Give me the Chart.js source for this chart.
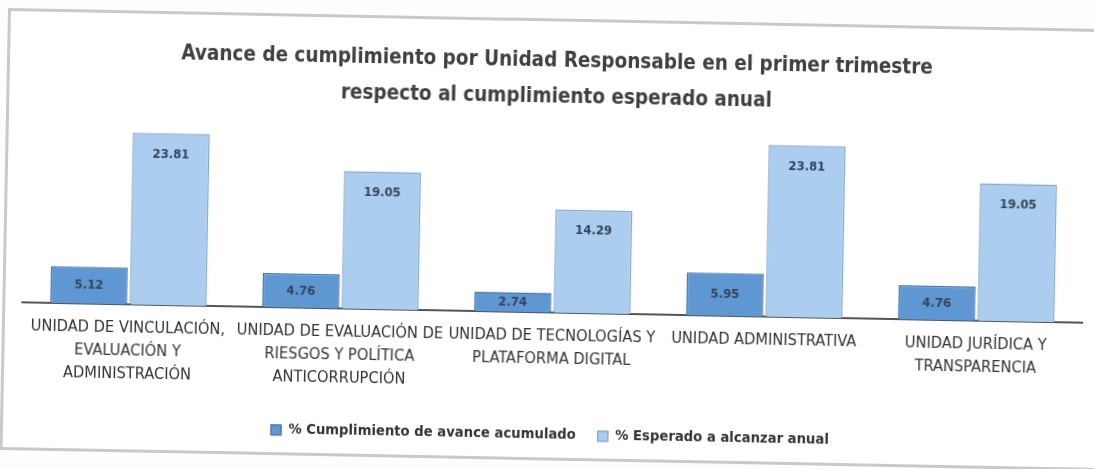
<!DOCTYPE html>
<html>
<head>
<meta charset="utf-8">
<script src="https://cdn.jsdelivr.net/npm/chart.js@4"></script>
<style>
  html, body { margin: 0; padding: 0; background: #fdfdfd; overflow: hidden; }
  .sheet {
    position: absolute;
    left: 8px;
    top: 8px;
    width: 1100px;
    height: 436px;
    border: 3px solid #c9c9c9;
    background: #ffffff;
    transform: rotate(1.1deg);
    transform-origin: 0 0;
  }
  .sheet canvas { position: absolute; left: 0; top: 0; }
</style>
</head>
<body>
<div class="sheet">
  <canvas id="avance-chart" width="1090" height="431"></canvas>
</div>
<script>
const unidades = [
  ['UNIDAD DE VINCULACIÓN,', 'EVALUACIÓN Y', 'ADMINISTRACIÓN'],
  ['UNIDAD DE EVALUACIÓN DE', 'RIESGOS Y POLÍTICA', 'ANTICORRUPCIÓN'],
  ['UNIDAD DE TECNOLOGÍAS Y', 'PLATAFORMA DIGITAL'],
  ['UNIDAD ADMINISTRATIVA'],
  ['UNIDAD JURÍDICA Y', 'TRANSPARENCIA']
]

const cumplimientoAcumulado = [5.12, 4.76, 2.74, 5.95, 4.76]
const esperadoAnual = [23.81, 19.05, 14.29, 23.81, 19.05]

const fontFamily = '"DejaVu Sans Condensed", "Liberation Sans", sans-serif'


// etiquetas de valor dentro de cada barra, cerca del extremo superior
const barValueLabels = {
  id: 'barValueLabels',
  afterDatasetsDraw(chart) {
    const { ctx } = chart;
    ctx.save();
    ctx.font = `bold 13px ${fontFamily}`;
    ctx.fillStyle = '#34455a';
    ctx.textAlign = 'center';
    ctx.textBaseline = 'middle';

    chart.data.datasets.forEach((dataset, i) => {
      chart.getDatasetMeta(i).data.forEach((bar, j) => {
        const height = bar.base - bar.y
        const offset = Math.min(21, height / 2)
        ctx.fillText(dataset.data[j].toFixed(2), bar.x, bar.y + offset)
      })
    })
    ctx.restore();
  }
}

const avanceCtx = document.getElementById('avance-chart')

const avanceChart = new Chart(avanceCtx, {
  type: 'bar',
  data: {
    labels: unidades,
    datasets: [{
      label: '% Cumplimiento de avance acumulado',
      data: cumplimientoAcumulado,
      backgroundColor: '#5f97d3',
      borderColor: '#4679b0',
      borderWidth: 1.5,
      categoryPercentage: 0.75,
      barPercentage: 0.97
    }, {
      label: '% Esperado a alcanzar anual',
      data: esperadoAnual,
      backgroundColor: '#abcdf0',
      borderColor: '#86a9cf',
      borderWidth: 1.5,
      categoryPercentage: 0.75,
      barPercentage: 0.97
    }]
  },
  options: {
    responsive: false,
    animation: false,
    layout: {
      padding: { left: 17, right: 13, top: 0, bottom: 0 }
    },
    scales: {
      x: {
        grid: { display: false, drawTicks: false },
        border: { display: true, color: '#555555', width: 2 },
        ticks: {
          padding: 12,
          color: '#333333',
          maxRotation: 0,
          autoSkip: false,
          font: { size: 16.3, family: fontFamily, lineHeight: 1.41 }
        }
      },
      y: {
        display: false,
        min: 0,
        max: 26.5
      }
    },
    plugins: {
      title: {
        display: true,
        text: ['Avance de cumplimiento por Unidad Responsable en el primer trimestre',
               'respecto al cumplimiento esperado anual'],
        color: '#404040',
        font: { size: 20.5, weight: 'bold', family: fontFamily, lineHeight: 1.75 },
        padding: { top: 22, bottom: 6 }
      },
      legend: {
        position: 'bottom',
        labels: {
          boxWidth: 10,
          boxHeight: 10,
          padding: 22,
          color: '#333333',
          font: { size: 14.7, weight: 'bold', family: fontFamily }
        }
      },
      tooltip: { enabled: false }
    }
  },
  plugins: [barValueLabels]
})
</script>
</body>
</html>
